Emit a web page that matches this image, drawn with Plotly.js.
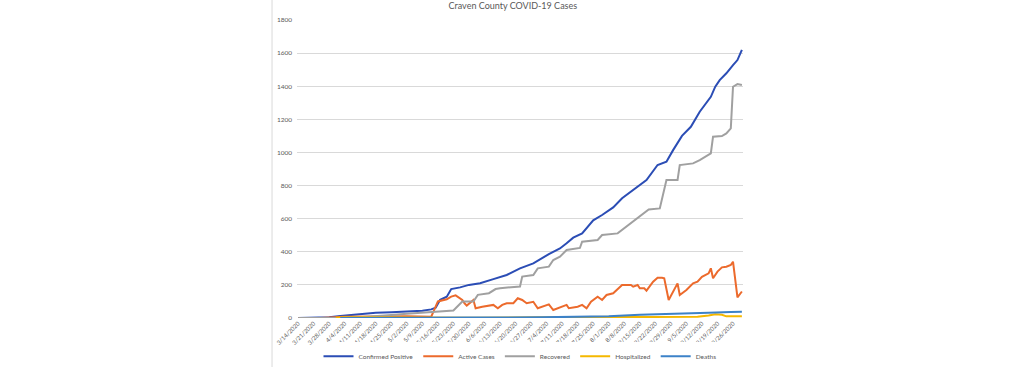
<!DOCTYPE html>
<html>
<head>
<meta charset="utf-8">
<script src="https://cdn.plot.ly/plotly-3.0.1.min.js"></script>
<style>
html,body{margin:0;padding:0;background:#fff;}
#chart{width:1024px;height:367px;}
</style>
</head>
<body>
<div id="chart"></div>
<script>
// ---- data ----
var chartTitle = "Craven County COVID-19 Cases";
var seriesNames = ["Confirmed Positive", "Active Cases", "Recovered", "Hospitalized", "Deaths"];

var confirmedDates = ["2020-03-14","2020-03-24","2020-03-28","2020-04-02","2020-04-07","2020-04-11","2020-04-18","2020-04-25","2020-05-02","2020-05-09","2020-05-13","2020-05-15","2020-05-17","2020-05-20","2020-05-22","2020-05-26","2020-05-30","2020-06-04","2020-06-10","2020-06-16","2020-06-22","2020-06-28","2020-07-05","2020-07-10","2020-07-13","2020-07-16","2020-07-20","2020-07-25","2020-07-29","2020-08-03","2020-08-07","2020-08-14","2020-08-18","2020-08-23","2020-08-27","2020-08-30","2020-09-03","2020-09-07","2020-09-11","2020-09-16","2020-09-18","2020-09-20","2020-09-23","2020-09-26","2020-09-28","2020-09-30"];
var confirmedValues = [0,0,4,12,18,22,32,35,38,44,52,62,110,129,175,185,200,210,235,260,300,330,386,420,451,485,511,590,622,668,723,793,833,924,944,1014,1100,1155,1246,1336,1397,1437,1478,1528,1558,1620];

var activeDates = ["2020-03-14","2020-03-24","2020-04-04","2020-04-18","2020-05-02","2020-05-13","2020-05-16","2020-05-20","2020-05-22","2020-05-24","2020-05-27","2020-05-28","2020-05-29","2020-06-01","2020-06-02","2020-06-05","2020-06-10","2020-06-12","2020-06-14","2020-06-16","2020-06-19","2020-06-21","2020-06-23","2020-06-25","2020-06-28","2020-06-30","2020-07-02","2020-07-05","2020-07-07","2020-07-09","2020-07-13","2020-07-14","2020-07-18","2020-07-20","2020-07-22","2020-07-24","2020-07-27","2020-07-29","2020-07-31","2020-08-03","2020-08-06","2020-08-07","2020-08-11","2020-08-12","2020-08-14","2020-08-15","2020-08-17","2020-08-18","2020-08-21","2020-08-23","2020-08-25","2020-08-26","2020-08-28","2020-09-01","2020-09-02","2020-09-05","2020-09-08","2020-09-10","2020-09-12","2020-09-15","2020-09-16","2020-09-17","2020-09-19","2020-09-21","2020-09-23","2020-09-25","2020-09-26","2020-09-28","2020-09-30"];
var activeValues = [0,0,8,10,10,8,100,113,129,137,109,89,75,109,59,68,79,59,79,89,89,119,109,89,98,59,68,82,48,59,79,59,68,79,59,99,129,109,139,149,189,199,199,189,199,179,179,165,219,243,243,240,109,209,139,169,209,219,249,270,300,240,280,306,310,320,340,125,160];

var recoveredDates = ["2020-03-14","2020-03-28","2020-04-04","2020-04-11","2020-04-18","2020-04-25","2020-05-02","2020-05-09","2020-05-16","2020-05-23","2020-05-27","2020-06-01","2020-06-03","2020-06-08","2020-06-11","2020-06-13","2020-06-22","2020-06-23","2020-06-28","2020-06-30","2020-07-05","2020-07-07","2020-07-10","2020-07-13","2020-07-19","2020-07-20","2020-07-27","2020-07-29","2020-08-05","2020-08-09","2020-08-14","2020-08-16","2020-08-19","2020-08-24","2020-08-27","2020-09-01","2020-09-02","2020-09-08","2020-09-11","2020-09-16","2020-09-17","2020-09-21","2020-09-23","2020-09-25","2020-09-26","2020-09-28","2020-09-30"];
var recoveredValues = [0,0,2,5,10,18,25,32,38,45,100,100,140,150,175,180,190,250,260,300,310,350,370,411,423,461,471,501,511,551,602,622,656,662,833,833,924,934,954,994,1095,1099,1115,1145,1397,1413,1407];

var hospitalizedDates = ["2020-03-31","2020-04-04","2020-04-18","2020-05-02","2020-06-01","2020-07-01","2020-07-20","2020-08-10","2020-08-20","2020-09-01","2020-09-10","2020-09-15","2020-09-18","2020-09-21","2020-09-23","2020-09-30"];
var hospitalizedValues = [2,5,5,3,2,4,8,8,6,5,8,15,22,20,10,10];

var deathsDates = ["2020-04-02","2020-04-11","2020-05-01","2020-06-01","2020-07-01","2020-07-20","2020-08-01","2020-08-15","2020-08-25","2020-09-05","2020-09-15","2020-09-25","2020-09-30"];
var deathsValues = [0,1,2,3,4,6,10,20,25,28,32,36,38];

var yTickValues = [0,200,400,600,800,1000,1200,1400,1600,1800];
var xTickStart = "2020-03-14";
var xRange = ["2020-03-13 12:00", "2020-09-30 12:00"];

// ---- styling ----
var colors = ["#2B4DB5", "#EC6A2C", "#A0A0A0", "#F5B800", "#3C82C8"];
var font = "Lato, 'Open Sans', sans-serif";

function mk(name, x, y, color) {
  return {type: "scatter", mode: "lines", name: name, x: x, y: y,
          line: {color: color, width: 2}, hoverinfo: "x+y+name"};
}

var traces = [
  mk(seriesNames[0], confirmedDates, confirmedValues, colors[0]),
  mk(seriesNames[1], activeDates, activeValues, colors[1]),
  mk(seriesNames[2], recoveredDates, recoveredValues, colors[2]),
  mk(seriesNames[3], hospitalizedDates, hospitalizedValues, colors[3]),
  mk(seriesNames[4], deathsDates, deathsValues, colors[4])
];

var layout = {
  width: 1024, height: 367,
  paper_bgcolor: "#fff", plot_bgcolor: "#fff",
  margin: {l: 297, r: 281, t: 20, b: 49, pad: 0, autoexpand: false},
  font: {family: font, color: "#595959", size: 7},
  title: {text: chartTitle, font: {family: font, size: 9, color: "#595959"},
          x: 0.484, xref: "paper", xanchor: "center", y: 0.983, yref: "container", yanchor: "middle"},
  showlegend: true,
  legend: {orientation: "h", x: 0.5, xanchor: "center", y: -0.128, yanchor: "middle",
           font: {family: font, size: 6.5, color: "#595959"}, itemwidth: 30, tracegroupgap: 0},
  xaxis: {type: "date", range: xRange, tick0: xTickStart, dtick: 7 * 86400000, automargin: false,
          tickformat: "%-m/%-d/%Y", tickangle: -45, showgrid: false, zeroline: false,
          showline: false, ticks: "", tickfont: {family: font, size: 6, color: "#595959"}},
  yaxis: {range: [0, 1800], tickvals: yTickValues, showgrid: true, gridcolor: "#D9D9D9", gridwidth: 1,
          zeroline: false, showline: false, ticks: "", ticklabelstandoff: 4, automargin: false,
          tickfont: {family: font, size: 6.5, color: "#595959"}},
  shapes: [{type: "line", xref: "paper", yref: "paper", x0: -0.056, x1: -0.056, y0: -0.17, y1: 1.07,
            line: {color: "#D9D9D9", width: 1}}]
};

Plotly.newPlot("chart", traces, layout, {displayModeBar: false, staticPlot: true});
</script>
</body>
</html>
